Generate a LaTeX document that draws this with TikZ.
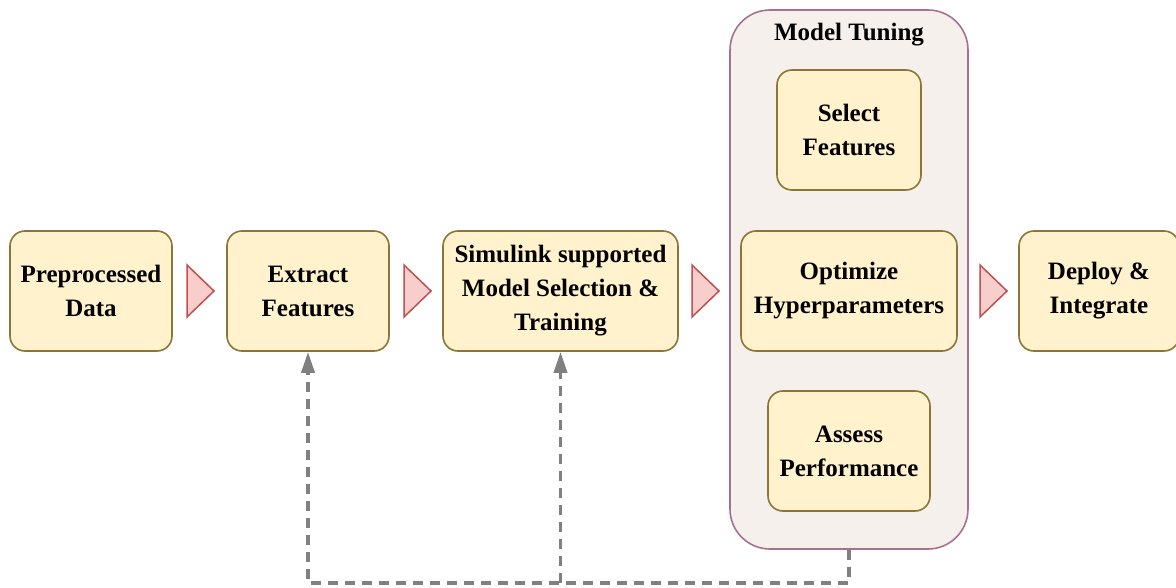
\documentclass[tikz,border=0pt]{standalone}
\usepackage{fontspec}
\setmainfont{Liberation Serif}
\usetikzlibrary{arrows.meta}
\definecolor{boxfill}{HTML}{FFF2CC}
\definecolor{boxdraw}{HTML}{8C7537}
\definecolor{grpfill}{HTML}{F5F0EC}
\definecolor{grpdraw}{HTML}{A8708F}
\definecolor{trifill}{HTML}{F8CECC}
\definecolor{tridraw}{HTML}{C0504D}
\definecolor{fb}{HTML}{808080}
\begin{document}
\begin{tikzpicture}[x=1pt,y=-1pt,
  stepbox/.style={draw=boxdraw,fill=boxfill,line width=1.6pt,rounded corners=15pt,
    align=center,inner sep=0pt,minimum height=120pt,
    font=\fontsize{25}{34}\selectfont\bfseries},
  tri/.style={draw=tridraw,fill=trifill,line width=1.5pt},
  fbline/.style={draw=fb,line width=3.6pt,dash pattern=on 10pt off 7pt},
  fbarrow/.style={fbline,-{Triangle[length=21pt,width=13pt]}}]
\useasboundingbox (0,0) rectangle (1176,588);
\node[draw=grpdraw,fill=grpfill,line width=1.6pt,rounded corners=40pt,
  minimum width=238pt,minimum height=539pt,inner sep=0pt] (tuning) at (849,279.5) {};
\node[font=\fontsize{25}{30}\selectfont\bfseries] (title) at (849,35) {Model Tuning};
\node[stepbox,minimum width=162pt] (pre) at (91,291) {Preprocessed\\Data};
\node[stepbox,minimum width=162pt] (ext) at (308,291) {Extract\\Features};
\node[stepbox,minimum width=235pt] (sim) at (560.5,291) {Simulink supported\\Model Selection \&\\Training};
\node[stepbox,minimum width=144pt] (sel) at (849,130) {Select\\Features};
\node[stepbox,minimum width=216pt] (opt) at (849,291) {Optimize\\Hyperparameters};
\node[stepbox,minimum width=162pt] (ass) at (849,451) {Assess\\Performance};
\node[stepbox,minimum width=160pt] (dep) at (1099,291) {Deploy \&\\Integrate};
\foreach \x in {187,404,692,980}
  \draw[tri] (\x,265) -- (\x+27,291) -- (\x,317) -- cycle;
\coordinate (bot) at (849,583);
\coordinate (mid) at (sim.south |- bot);
\draw[fbarrow] (tuning.south) -- (bot) -| (ext.south);
\draw[fbarrow] (mid) -- (sim.south);
\end{tikzpicture}
\end{document}
